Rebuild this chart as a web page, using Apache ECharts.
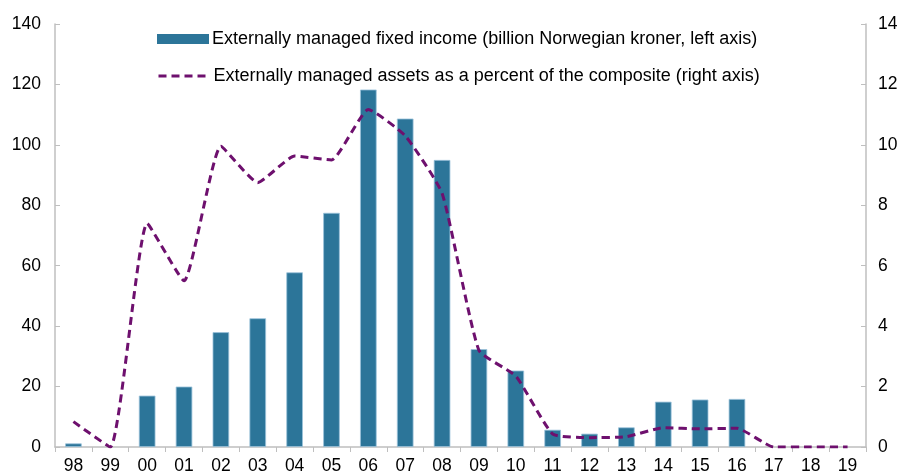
<!DOCTYPE html>
<html>
<head>
<meta charset="utf-8">
<script src="https://cdn.jsdelivr.net/npm/echarts@6/dist/echarts.min.js"></script>
<style>
  html, body { margin: 0; padding: 0; background: #fff; }
  #chart { width: 903px; height: 475px; }
</style>
</head>
<body>
<div id="chart"></div>
<script>
// years on the x axis
const categories = ['98', '99', '00', '01', '02', '03', '04', '05', '06', '07', '08',
  '09', '10', '11', '12', '13', '14', '15', '16', '17', '18', '19'];

// billion NOK, left axis
const fixedIncome = [1.2, null, 17, 20, 38, 42.6, 57.8, 77.5, 118.3, 108.7, 95,
  32.4, 25.3, 5.7, 4.4, 6.5, 15, 15.7, 15.9, null, null, null];

// percent of composite, right axis
const pctComposite = [0.84, 0, 7.4, 5.5, 9.95, 8.75, 9.63, 9.5, 11.17, 10.3, 8.4,
  3.2, 2.35, 0.43, 0.31, 0.34, 0.64, 0.6, 0.62, 0, 0, 0];

const barName = 'Externally managed fixed income (billion Norwegian kroner, left axis)';
const lineName = 'Externally managed assets as a percent of the composite (right axis)';

const font = 'Liberation Sans, Arial, sans-serif';
const axisColor = '#bfbfbf';

const chart = echarts.init(document.getElementById('chart'));

const option = {
  animation: false,
  textStyle: { fontFamily: font },
  legend: [
    {
      data: [{ name: barName, icon: 'rect', itemStyle: { borderWidth: 0 } }],
      left: 157, top: 30, padding: 0,
      itemWidth: 52, itemHeight: 10, itemGap: 5,
      textStyle: { fontSize: 18, color: '#000', fontFamily: font, padding: [0, 0, 0, -2] }
    },
    {
      data: [{ name: lineName, itemStyle: { opacity: 0 } }],
      left: 157, top: 67, padding: 0,
      itemWidth: 52, itemHeight: 14,
      lineStyle: { width: 3 },
      textStyle: { fontSize: 18, color: '#000', fontFamily: font, padding: [0, 0, 0, -2] }
    }
  ],
  grid: { left: 55, right: 37, top: 24, bottom: 28, containLabel: false },
  xAxis: {
    type: 'category',
    data: categories,
    boundaryGap: true,
    axisLine: { lineStyle: { color: axisColor, width: 1.5 } },
    axisTick: { show: true, inside: false, length: 5, lineStyle: { color: axisColor } },
    axisLabel: { fontSize: 17.5, color: '#000', margin: 10, fontFamily: font }
  },
  yAxis: [
    {
      type: 'value', min: 0, max: 140, interval: 20,
      axisLine: { show: true, lineStyle: { color: axisColor, width: 1.5 } },
      axisTick: { show: true, inside: true, length: 5, lineStyle: { color: axisColor } },
      axisLabel: { fontSize: 17.5, color: '#000', margin: 14, fontFamily: font },
      splitLine: { show: false }
    },
    {
      type: 'value', min: 0, max: 14, interval: 2,
      axisLine: { show: true, lineStyle: { color: axisColor, width: 1.5 } },
      axisTick: { show: true, inside: true, length: 5, lineStyle: { color: axisColor } },
      axisLabel: { fontSize: 17.5, color: '#000', margin: 12, fontFamily: font },
      splitLine: { show: false }
    }
  ],
  series: [
    {
      name: barName,
      type: 'bar',
      yAxisIndex: 0,
      data: fixedIncome,
      barWidth: '45%',
      itemStyle: { color: '#2C7599', borderColor: '#9cc3da', borderWidth: 0.8 }
    },
    {
      name: lineName,
      type: 'line',
      yAxisIndex: 1,
      data: pctComposite,
      smooth: 0.15,
      symbol: 'none',
      lineStyle: { color: '#6E106E', width: 3, type: [8, 5] },
      itemStyle: { color: '#6E106E' }
    }
  ]
};

chart.setOption(option);
</script>
</body>
</html>
